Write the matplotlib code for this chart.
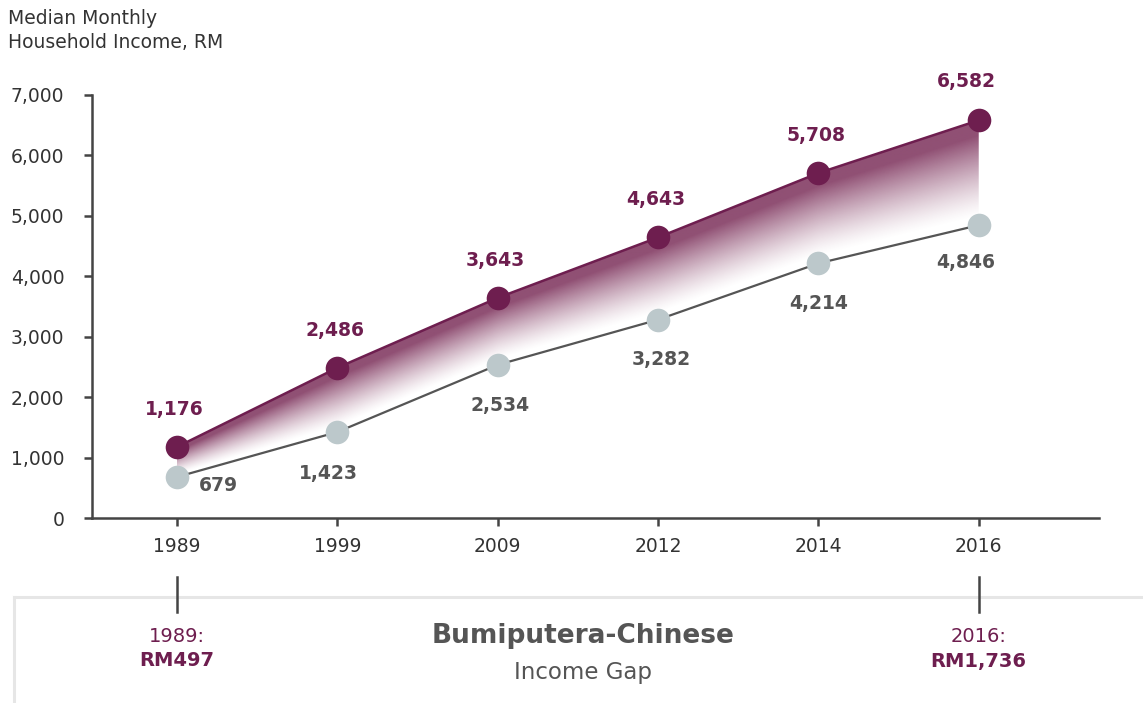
import numpy as np
import matplotlib as mpl
mpl.use('Agg')
import matplotlib.pyplot as plt
from matplotlib import transforms
from matplotlib.lines import Line2D
from matplotlib.colors import to_rgb

years = ['1989', '1999', '2009', '2012', '2014', '2016']
chinese = [1176, 2486, 3643, 4643, 5708, 6582]
bumiputera = [679, 1423, 2534, 3282, 4214, 4846]
gap_first = ('1989:', 'RM497')
gap_last = ('2016:', 'RM1,736')

purple = '#6e1e4f'
fill_col = '#8a466c'
grey_dot = '#bcc8cb'
grey_txt = '#555555'
axis_col = '#444444'

plt.rcParams['font.family'] = ['DejaVu Sans']

W, H = 1143, 703
fig = plt.figure(figsize=(W / 100, H / 100), dpi=100)
fig.patch.set_facecolor('white')
ax = fig.add_axes([92 / W, 1 - 518 / H, (1099 - 92) / W, (518 - 95) / H])

idx = np.arange(len(years))
ax.set_xlim(-0.53, 5.75)
ax.set_ylim(0, 7000)

# gradient band between the two series, clipped to the area between lines
band = ax.fill_between(idx, bumiputera, chinese, facecolor='none', edgecolor='none')
xs = np.linspace(idx[0], idx[-1], 800)
ys = np.linspace(0, 7000, 600)
up = np.interp(xs, idx, chinese)
lo = np.interp(xs, idx, bumiputera)
t = (up[None, :] - ys[:, None]) / (up - lo)[None, :]
alpha = np.clip(1 - (t - 0.14) / 0.78, 0, 1) ** 1.3 * 0.95
rgba = np.zeros((len(ys), len(xs), 4))
rgba[..., :3] = to_rgb(fill_col)
rgba[..., 3] = alpha
im = ax.imshow(rgba, extent=(idx[0], idx[-1], 0, 7000), origin='lower',
               aspect='auto', interpolation='bilinear', zorder=1)
im.set_clip_path(band.get_paths()[0], transform=ax.transData)

ax.plot(idx, bumiputera, color=grey_txt, lw=1.6, zorder=2)
ax.plot(idx, chinese, color=purple, lw=1.8, zorder=2)
ax.plot(idx, bumiputera, 'o', ms=17, color=grey_dot, mec='none', zorder=3)
ax.plot(idx, chinese, 'o', ms=17, color=purple, mec='none', zorder=3)

# value labels
purple_off = [(-2, 27)] * 5 + [(-9, 28)]
for i, v in enumerate(chinese):
    ax.annotate(f'{v:,}', (i, v), xytext=purple_off[i], textcoords='offset points',
                ha='center', va='center', fontsize=13.5, fontweight='bold', color=purple)
grey_off = [(30, -6), (-6.5, -30), (1.5, -29), (2, -29), (0, -29), (-9.5, -27)]
for i, v in enumerate(bumiputera):
    ax.annotate(f'{v:,}', (i, v), xytext=grey_off[i], textcoords='offset points',
                ha='center', va='center', fontsize=13.5, fontweight='bold', color=grey_txt)

# axes styling
for s in ['top', 'right']:
    ax.spines[s].set_visible(False)
for s in ['left', 'bottom']:
    ax.spines[s].set_color(axis_col)
    ax.spines[s].set_linewidth(1.8)
ax.set_xticks(idx)
ax.set_xticklabels(years)
ax.set_yticks(np.arange(0, 7001, 1000))
ax.set_yticklabels([f'{v:,}' for v in range(0, 7001, 1000)])
ax.tick_params(axis='both', colors=axis_col, width=1.8, length=6, labelsize=13.5,
               labelcolor='#333333')
ax.tick_params(axis='y', pad=14)
ax.tick_params(axis='x', pad=8)

fig.text(8 / W, 1 - 9 / H, 'Median Monthly\nHousehold Income, RM', ha='left', va='top',
         fontsize=13.5, color='#333333', linespacing=1.32)

# income gap panel below the chart
box_y = 1 - 597 / H
fig.add_artist(Line2D([14 / W, 1], [box_y, box_y], color='#e6e6e6', lw=2.2))
fig.add_artist(Line2D([14 / W, 14 / W], [0, box_y], color='#e6e6e6', lw=2.2))
blend = transforms.blended_transform_factory(ax.transData, fig.transFigure)
for i, (yr, amt) in [(0, gap_first), (len(years) - 1, gap_last)]:
    fig.add_artist(Line2D([i, i], [1 - 577 / H, 1 - 612 / H], color=axis_col, lw=1.8,
                          transform=blend))
    fig.text(i, 1 - 636 / H, yr, transform=blend, ha='center', va='center',
             fontsize=14, color=purple)
    fig.text(i, 1 - 661 / H, amt, transform=blend, ha='center', va='center',
             fontsize=14, fontweight='bold', color=purple)

fig.text(583 / W, 1 - 636 / H, 'Bumiputera-Chinese', ha='center', va='center',
         fontsize=19, fontweight='bold', color=grey_txt)
fig.text(583 / W, 1 - 673 / H, 'Income Gap', ha='center', va='center',
         fontsize=16.5, color=grey_txt)

plt.savefig('out.png', dpi=100, facecolor=fig.get_facecolor())
